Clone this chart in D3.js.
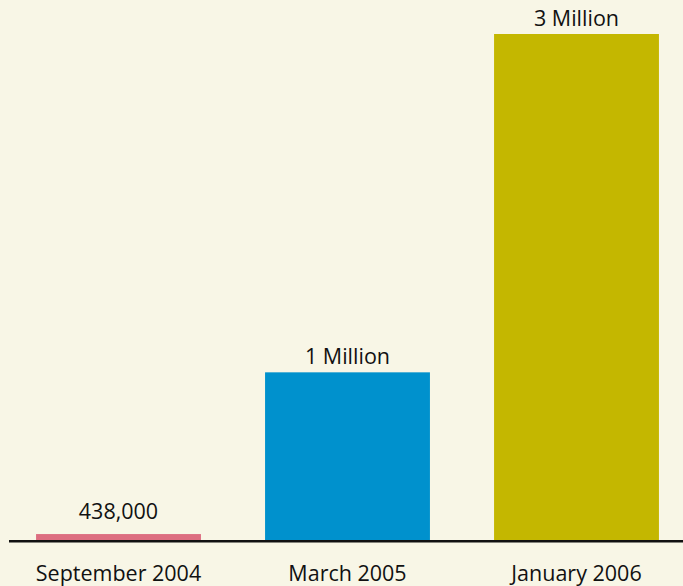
<!DOCTYPE html>
<html>
<head>
<meta charset="utf-8">
<script src="https://cdn.jsdelivr.net/npm/d3@7"></script>
<style>
  html, body { margin: 0; padding: 0; background: #f8f6e6; }
  svg { display: block; }
  text { font-family: "Open Sans", "Liberation Sans", sans-serif; fill: #111; }
</style>
</head>
<body>
<svg id="chart" width="683" height="586"></svg>
<script>
// Data (values in millions, as drawn)
const categories = ["September 2004", "March 2005", "January 2006"];
const values = [0.044, 1, 3];
const valueLabels = ["438,000", "1 Million", "3 Million"];
const colors = ["#dd6e80", "#0091cd", "#c4b700"];

const W = 683, H = 586;
const svg = d3.select("#chart");
svg.append("rect").attr("width", W).attr("height", H).attr("fill", "#f8f6e6");

const baseY = 541.5;
const x = d3.scaleBand().domain(categories).range([4, 691])
  .paddingInner(0.28).paddingOuter(0.14);
const y = d3.scaleLinear().domain([0, 3]).range([baseY, 34]);

const data = categories.map((c, i) => ({ c, v: values[i], label: valueLabels[i], color: colors[i] }));

svg.selectAll("rect.bar").data(data).enter().append("rect")
  .attr("class", "bar")
  .attr("x", d => x(d.c))
  .attr("width", x.bandwidth())
  .attr("y", d => y(d.v))
  .attr("height", d => baseY - y(d.v))
  .attr("fill", d => d.color);

// baseline
svg.append("line")
  .attr("x1", 9).attr("x2", W)
  .attr("y1", 541.2).attr("y2", 541.2)
  .attr("stroke", "#111").attr("stroke-width", 2.6);

// value labels
svg.selectAll("text.val").data(data).enter().append("text")
  .attr("class", "val")
  .attr("x", d => x(d.c) + x.bandwidth() / 2)
  .attr("y", d => Math.min(y(d.v) - 8.5, baseY - 22.5))
  .attr("text-anchor", "middle")
  .style("font-size", "21.5px")
  .text(d => d.label);

// category axis labels
const xAxis = d3.axisBottom(x).tickSize(0).tickPadding(0);
const ax = svg.append("g").attr("transform", `translate(0,${baseY})`).call(xAxis);
ax.select(".domain").remove();
ax.selectAll("text")
  .attr("dy", null)
  .attr("y", 39.5)
  .style("font-family", "\"Open Sans\", \"Liberation Sans\", sans-serif")
  .style("font-size", "21.5px")
  .attr("fill", "#111");
</script>
</body>
</html>
